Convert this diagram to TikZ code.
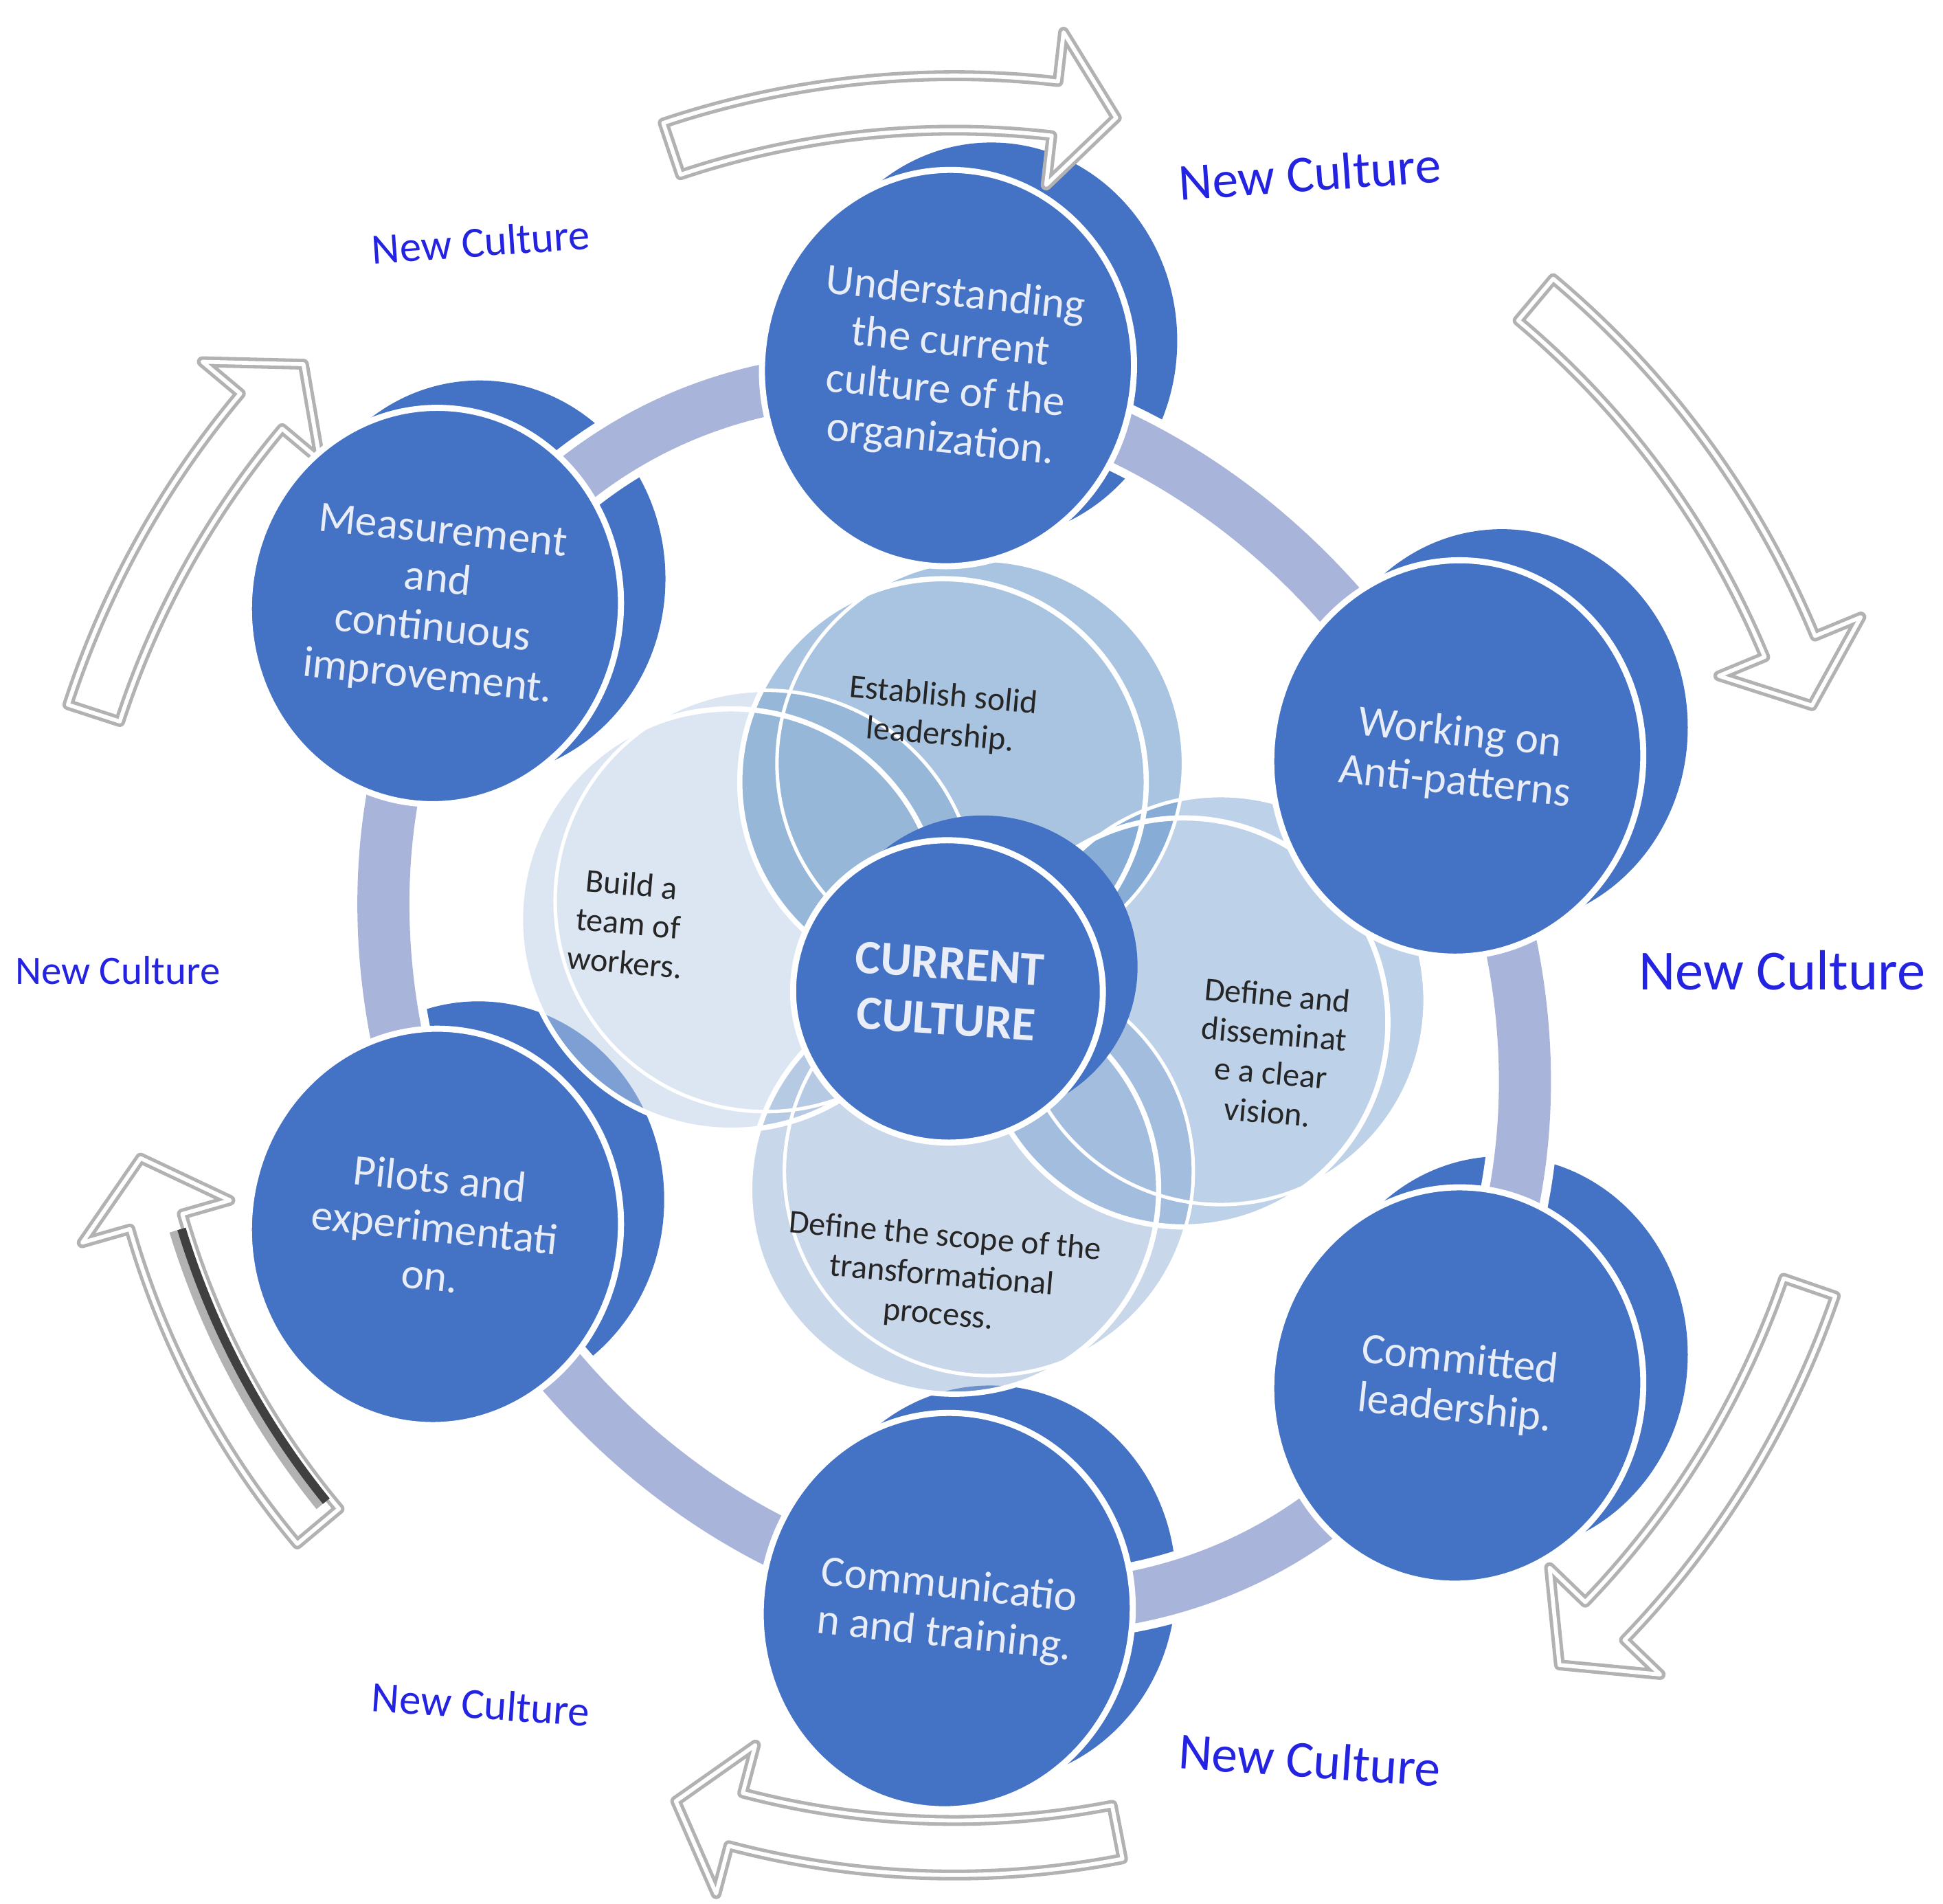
\documentclass[tikz,border=0pt]{standalone}
\usepackage{fontspec}
\setmainfont{Carlito}
\usetikzlibrary{shapes.geometric}
\definecolor{stepblue}{HTML}{4472C4}
\definecolor{ringgrey}{HTML}{A9B4DA}
\definecolor{newblue}{HTML}{2323E1}
\definecolor{steptext}{HTML}{E8EDF7}
\definecolor{venntop}{HTML}{5389C1}
\definecolor{vennleft}{HTML}{B9CDE5}
\definecolor{vennright}{HTML}{7BA3D3}
\definecolor{vennbot}{HTML}{93AFD5}

% curved block arrow round (C): tail angle, head base angle, tip angle, radius
\newcommand{\chromearrow}[4]{%
  \pgfmathsetmacro\arrowrout{#4+0.22}\pgfmathsetmacro\arrowrin{#4-0.22}%
  \pgfmathsetmacro\headrout{#4+0.62}\pgfmathsetmacro\headrin{#4-0.62}%
  \draw[chrome] (#1:\arrowrout) arc[start angle=#1, end angle=#2, radius=\arrowrout]
    -- (#2:\headrout) -- (#3:#4) -- (#2:\headrin) -- (#2:\arrowrin)
    arc[start angle=#2, end angle=#1, radius=\arrowrin] -- cycle;}

\begin{document}
\begin{tikzpicture}[
  stepback/.style={ellipse, fill=stepblue, minimum width=3.0cm, minimum height=3.2cm, inner sep=0pt},
  stepfront/.style={ellipse, fill=stepblue, draw=white, line width=1.4pt, minimum width=3.0cm, minimum height=3.2cm, inner sep=0pt, align=center, text=steptext, font=\fontsize{10}{11.2}\selectfont, rotate=-6},
  venntext/.style={align=center, text=black!85, font=\fontsize{7.6}{9}\selectfont, rotate=-5},
  vennedge/.style={draw=white, line width=1.2pt},
  newtag/.style={text=newblue},
  chrome/.style={fill=white, draw=gray!60, double=white, double distance=0.9pt, line width=0.8pt, line join=round},
]
\useasboundingbox (0,0) rectangle (15.68,-15.36);

% centres
\coordinate (C) at (7.70,-8.01);
\coordinate (pU) at (7.65,-2.97);
\coordinate (pW) at (11.76,-6.12);
\coordinate (pK) at (11.76,-11.18);
\coordinate (pC) at (7.64,-13.00);
\coordinate (pP) at (3.51,-9.90);
\coordinate (pM) at (3.51,-4.89);
\coordinate (pX) at (7.65,-8.00);

% back discs
\node[stepback] (Uback) at ([shift={(0.35,0.22)}]pU) {};
\node[stepback] (Wback) at ([shift={(0.36,0.25)}]pW) {};
\node[stepback] (Kback) at ([shift={(0.36,0.25)}]pK) {};
\node[stepback] (Cback) at ([shift={(0.35,0.22)}]pC) {};
\node[stepback] (Pback) at ([shift={(0.35,0.22)}]pP) {};
\node[stepback] (Mback) at ([shift={(0.36,0.22)}]pM) {};

% ring
\begin{scope}[shift={(C)}, cm={0.94,-0.146,0,1,(0,0)}]
  \draw[white, line width=0.56cm] (0,0) circle (4.9);
  \draw[ringgrey, line width=0.42cm] (0,0) circle (4.9);
\end{scope}

% arrows
\begin{scope}[shift={(C)}]
  \chromearrow{108.5}{83.5}{79.5}{7.18}
  \chromearrow{50}{22.5}{18.5}{7.3}
  \chromearrow{-19}{-44}{-48}{7.3}
  \chromearrow{-79}{-104.8}{-109}{6.9}
  \chromearrow{-140}{-164}{-168.5}{6.7}
  \chromearrow{162}{140}{136}{7.3}
  \draw[gray!60, line width=3.5pt] (-141:6.56) arc[start angle=-141, end angle=-163, radius=6.56];
  \draw[black!75, line width=2pt] (-141:6.52) arc[start angle=-141, end angle=-163, radius=6.52];
\end{scope}

% venn
\begin{scope}[transparency group, opacity=0.5]
  \fill[vennleft] (6.18,-7.27) circle (1.7);
  \fill[vennleft] (5.90,-7.42) circle (1.7);
\end{scope}
\begin{scope}[transparency group, opacity=0.5]
  \fill[vennbot] (7.98,-9.45) circle (1.65);
  \fill[vennbot] (7.70,-9.60) circle (1.65);
\end{scope}
\begin{scope}[transparency group, opacity=0.5]
  \fill[vennright] (9.85,-8.07) circle (1.65);
  \fill[vennright] (9.55,-8.25) circle (1.65);
\end{scope}
\begin{scope}[transparency group, opacity=0.5]
  \fill[venntop] (7.91,-6.16) circle (1.64);
  \fill[venntop] (7.61,-6.31) circle (1.64);
\end{scope}
\draw[vennedge, line width=0.8pt] (6.18,-7.27) circle (1.7);
\draw[vennedge, line width=0.8pt] (7.98,-9.45) circle (1.65);
\draw[vennedge, line width=0.8pt] (9.85,-8.07) circle (1.65);
\draw[vennedge, line width=0.8pt] (7.91,-6.16) circle (1.64);
\draw[vennedge] (5.90,-7.42) circle (1.7);
\draw[vennedge] (7.70,-9.60) circle (1.65);
\draw[vennedge] (9.55,-8.25) circle (1.65);
\draw[vennedge] (7.61,-6.31) circle (1.64);

\node[venntext] (tLead) at (7.60,-5.78) {Establish solid\\leadership.};
\node[venntext] (tTeam) at (5.07,-7.45) {Build a\\team of\\workers.};
\node[venntext] (tVision) at (10.27,-8.50) {Define and\\disseminat\\e a clear\\vision.};
\node[venntext] (tScope) at (7.60,-10.30) {Define the scope of the\\transformational\\process.};

% front discs
\node[stepfront] (und) at (pU) {Understanding\\the current\\culture of the\\organization.};
\node[stepfront] (anti) at (pW) {Working on\\Anti-patterns};
\node[stepfront] (lead) at (pK) {Committed\\leadership.};
\node[stepfront] (comm) at (pC) {Communicatio\\n and training.};
\node[stepfront] (pilot) at (pP) {Pilots and\\experimentati\\on.};
\node[stepfront] (meas) at (pM) {Measurement\\and\\continuous\\improvement.};

% core
\node[stepback, minimum width=2.5cm, minimum height=2.44cm] (coreback) at ([shift={(0.28,0.2)}]pX) {};
\node[stepfront, minimum width=2.5cm, minimum height=2.44cm, rotate=2, font=\fontsize{11}{12.8}\selectfont\bfseries] (core) at (pX) {CURRENT\\CULTURE};

% new culture tags
\node[newtag, font=\fontsize{11.9}{12}\selectfont, rotate=4] (nc1) at (10.57,-1.40) {New Culture};
\node[newtag, font=\fontsize{9.9}{10}\selectfont, rotate=4] (nc2) at (3.88,-1.95) {New Culture};
\node[newtag, font=\fontsize{9.3}{10}\selectfont] (nc3) at (0.95,-7.83) {New Culture};
\node[newtag, font=\fontsize{13}{14}\selectfont] (nc4) at (14.38,-7.83) {New Culture};
\node[newtag, font=\fontsize{9.9}{10}\selectfont, rotate=-4] (nc5) at (3.88,-13.75) {New Culture};
\node[newtag, font=\fontsize{11.9}{12}\selectfont, rotate=-4] (nc6) at (10.57,-14.20) {New Culture};
\end{tikzpicture}
\end{document}
